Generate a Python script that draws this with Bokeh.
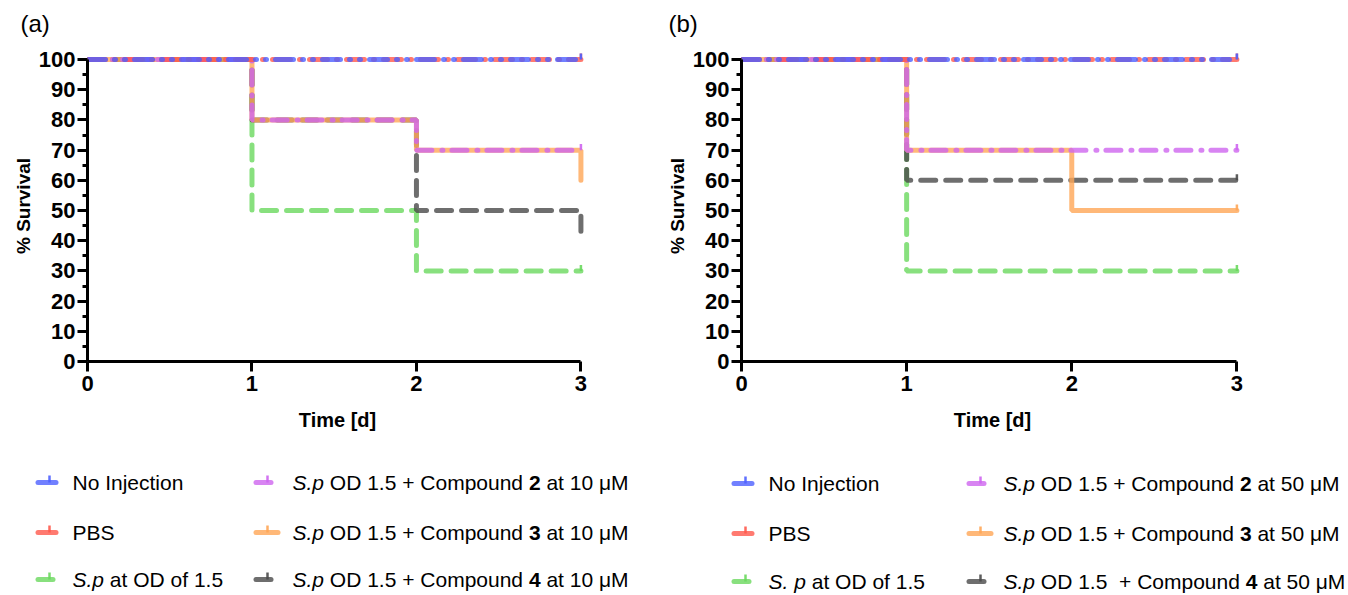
import re
from bokeh.plotting import figure
from bokeh.models import Range1d, FixedTicker, Label
from bokeh.layouts import row, column
from bokeh.embed import file_html
from bokeh.resources import INLINE

# ---------------- data ----------------
days = [0, 1, 2, 3]

# panel (a) : 10 uM
a_no_injection = [100, 100, 100, 100]
a_pbs = [100, 100, 100, 100]
a_sp = [100, 50, 30, 30]
a_cmp2 = [100, 80, 70, 70]
a_cmp3 = [100, 80, 70, 60]
a_cmp4 = [100, 80, 50, 40]

# panel (b) : 50 uM
b_no_injection = [100, 100, 100, 100]
b_pbs = [100, 100, 100, 100]
b_sp = [100, 30, 30, 30]
b_cmp2 = [100, 70, 70, 70]
b_cmp3 = [100, 70, 50, 50]
b_cmp4 = [100, 60, 60, 60]

y_ticks = [0, 10, 20, 30, 40, 50, 60, 70, 80, 90, 100]
y_minor_ticks = [5, 15, 25, 35, 45, 55, 65, 75, 85, 95]
x_ticks = [0, 1, 2, 3]

x_title = "Time [d]"
y_title = "% Survival"
panel_labels = ["(a)", "(b)"]

legend_a = [
    [("No Injection", "normal")],
    [("PBS", "normal")],
    [("S.p", "italic"), (" at OD of 1.5", "normal")],
    [("S.p", "italic"), (" OD 1.5 + Compound ", "normal"), ("2", "bold"), (" at 10 μM", "normal")],
    [("S.p", "italic"), (" OD 1.5 + Compound ", "normal"), ("3", "bold"), (" at 10 μM", "normal")],
    [("S.p", "italic"), (" OD 1.5 + Compound ", "normal"), ("4", "bold"), (" at 10 μM", "normal")],
]
legend_b = [
    [("No Injection", "normal")],
    [("PBS", "normal")],
    [("S. p", "italic"), (" at OD of 1.5", "normal")],
    [("S.p", "italic"), (" OD 1.5 + Compound ", "normal"), ("2", "bold"), (" at 50 μM", "normal")],
    [("S.p", "italic"), (" OD 1.5 + Compound ", "normal"), ("3", "bold"), (" at 50 μM", "normal")],
    [("S.p", "italic"), (" OD 1.5  + Compound ", "normal"), ("4", "bold"), (" at 50 μM", "normal")],
]

# ---------------- styles ----------------
FONT = "Liberation Sans"
COLORS = ["#4E60FF", "#FF594C", "#6AD85E", "#CE65EF", "#FFA656", "#4A4A4A"]
DASHES = ["18 9 1 9 1 9", "18 9 1 9", "15 10", "15 10 1 9", "solid", "15 10"]
LW = 5
ALPHA = 0.8
DRAW_ORDER = [2, 5, 4, 3, 1, 0]

W_A, W_B = 663, 685
H_TOP, H_CHART, H_LEG = 40, 420, 135
BT, FH = 10, 311
X_END, Y_END = 3.04, 103

# Arial / Liberation Sans advance widths (em)
CW = {" ": .278, "%": .889, "(": .333, ")": .333, "+": .584, ".": .278,
      "A": .667, "B": .667, "C": .722, "D": .722, "I": .278, "M": .833,
      "N": .722, "O": .778, "P": .667, "S": .667, "a": .556, "c": .5,
      "d": .556, "e": .556, "f": .278, "i": .222, "j": .222, "m": .833,
      "n": .556, "o": .556, "p": .556, "t": .278, "u": .556, "μ": .576}


def text_width(s, size):
    return sum(CW.get(ch, .556) for ch in s) * size


def blank(width, height):
    f = figure(width=width, height=height, x_range=Range1d(0, width),
               y_range=Range1d(height, 0), output_backend="svg",
               toolbar_location=None, min_border=0, min_border_left=0,
               min_border_right=0, min_border_top=0, min_border_bottom=0,
               x_axis_type=None, y_axis_type=None)
    f.outline_line_color = None
    f.grid.visible = False
    return f


def make_chart(width, bl, fw, series):
    br = width - bl - fw
    p = figure(width=width, height=H_CHART, x_range=Range1d(0, X_END),
               y_range=Range1d(0, Y_END), output_backend="svg",
               toolbar_location=None, min_border_left=bl, min_border_right=br,
               min_border_top=BT, min_border_bottom=H_CHART - BT - FH)
    p.outline_line_color = None
    p.grid.visible = False
    p.xaxis.ticker = FixedTicker(ticks=x_ticks)
    p.xaxis.bounds = (0, 3)
    p.yaxis.ticker = FixedTicker(ticks=y_ticks, minor_ticks=y_minor_ticks)
    p.yaxis.bounds = (0, 100)
    for ax in p.axis:
        ax.axis_line_width = 3
        ax.axis_line_color = "black"
        ax.major_tick_line_width = 3
        ax.minor_tick_line_width = 3
        ax.major_tick_out = 10
        ax.major_tick_in = 0
        ax.minor_tick_in = 0
        ax.major_label_text_font = FONT
        ax.major_label_text_font_style = "bold"
        ax.major_label_text_font_size = "22px"
        ax.major_label_text_color = "black"
        ax.axis_label_text_font = FONT
        ax.axis_label_text_font_style = "bold"
        ax.axis_label_text_color = "black"
    p.xaxis.minor_tick_out = 0
    p.yaxis.minor_tick_out = 5
    p.xaxis.major_label_standoff = 4
    p.yaxis.major_label_standoff = 2
    p.xaxis.axis_label = x_title
    p.yaxis.axis_label = y_title
    p.xaxis.axis_label_text_font_size = "20px"
    p.yaxis.axis_label_text_font_size = "19px"
    p.xaxis.axis_label_standoff = 15
    p.yaxis.axis_label_standoff = 2

    for i in DRAW_ORDER:
        vals = series[i]
        p.step(days, vals, mode="after", line_color=COLORS[i], line_width=LW,
               line_alpha=ALPHA, line_dash=DASHES[i], line_cap="round")
        if vals[-1] == vals[-2]:
            p.segment(x0=[days[-1]], y0=[vals[-1]], x1=[days[-1]], y1=[vals[-1] + 2],
                      line_color=COLORS[i], line_width=2.5, line_alpha=0.9)
    return p


def draw_rich(L, x, y, segs, size):
    for text, style in segs:
        for m in re.finditer(r"[^ ]+(?: [^ ]+)*", text):
            x0 = x + text_width(text[:m.start()], size)
            L.add_layout(Label(x=x0, y=y, text=m.group(0), text_font=FONT,
                               text_font_style=style, text_font_size=f"{size}px",
                               text_color="black", text_baseline="middle",
                               text_align="left"))
        x += text_width(text, size)


def make_legend(width, entries, col_sw, col_tx, rows):
    L = blank(width, H_LEG)
    for k, segs in enumerate(entries):
        c = k // 3
        r = k % 3
        sx = col_sw[c]
        y = rows[r]
        # swatch shows the first dash of the series' pattern (solid: full length)
        seg_len = 22 if DASHES[k] == "solid" else float(DASHES[k].split()[0])
        L.line([sx + 2.5, sx + 2.5 + seg_len], [y, y], line_color=COLORS[k],
               line_width=LW, line_alpha=ALPHA, line_cap="round")
        L.segment(x0=[sx + 14], y0=[y], x1=[sx + 14], y1=[y - 7],
                  line_color=COLORS[k], line_width=2.5, line_alpha=0.9)
        draw_rich(L, col_tx[c], y, segs, 21)
    return L


series_a = [a_no_injection, a_pbs, a_sp, a_cmp2, a_cmp3, a_cmp4]
series_b = [b_no_injection, b_pbs, b_sp, b_cmp2, b_cmp3, b_cmp4]

top = blank(W_A + W_B, H_TOP)
for lbl, lx in zip(panel_labels, [20, 668]):
    top.add_layout(Label(x=lx, y=23, text=lbl, text_font=FONT, text_font_size="24px",
                         text_color="black", text_baseline="middle", text_align="left"))

pa = make_chart(W_A, 87, 500, series_a)
pb = make_chart(W_B, 78, 502, series_b)
la = make_legend(W_A, legend_a, [35, 253], [72, 292], [22, 72, 119])
lb = make_legend(W_B, legend_b, [68, 303], [105, 340], [23, 73, 121])

layout = column(top, row(pa, pb), row(la, lb))
open("out.html", "w").write(file_html(layout, INLINE))
